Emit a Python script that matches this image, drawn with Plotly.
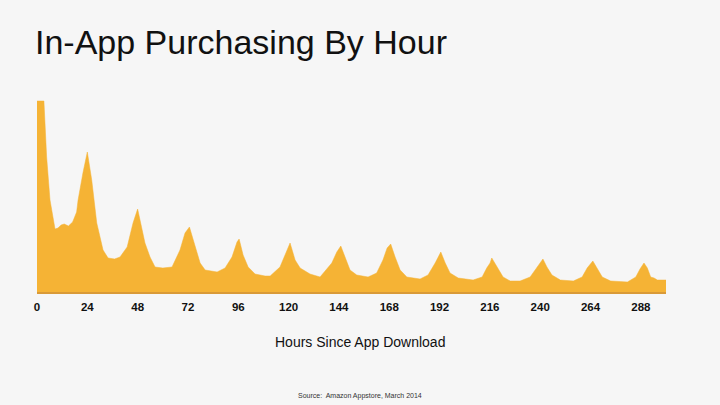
import plotly.graph_objects as go

hours = [0, 3.3, 4.6, 6.2, 8.6, 10, 11.5, 13, 15, 17, 18.9, 19.6, 21.9, 24, 26.1, 28.5, 31.5, 33.9, 37, 39.6,
         43, 45.8, 48, 51.5, 53.9, 56.3, 60, 64.4, 68.2, 70.6, 72.7, 75.4, 77.8, 80.2, 85.9, 89.7,
         93, 95.4, 96.4, 98.3, 100.7, 104, 108.8, 111.2, 115.9, 119.3, 120.7, 123.1, 125.5, 130.2, 135,
         140.6, 143, 144.9, 147, 149.3, 152.5, 157.9, 162, 165, 167, 168.7, 170.8, 173.2, 176.4,
         182.7, 186.5, 189.9, 192.6, 194.7, 197, 200.9, 208, 212.3, 214.5, 216.1, 216.9, 219.3, 222.3,
         225.7, 230.4, 235.2, 238.4, 241.3, 243.2, 245.6, 249.6, 255.8, 260, 262.4, 265.1, 267.2,
         269.6, 273.6, 281.6, 285.6, 287.6, 289.5, 291.1, 292.7, 294.3, 295.9, 300]
purchases = [191, 191, 135, 92, 63, 64, 67, 68, 66, 70, 80, 92, 119, 140, 112, 69, 42, 34, 33, 35,
             45, 69, 83, 49, 35, 25, 24, 25, 42, 59, 65, 45, 29, 22, 20, 24,
             35, 50, 53, 37, 25, 18, 16, 16, 25, 42, 49, 32, 24, 18, 15,
             29, 40, 46, 35, 22, 17, 15, 19, 32, 44, 48, 35, 22, 15,
             13, 17, 29, 40, 29, 19, 14, 12, 15, 24, 29, 34, 25, 15,
             11, 11, 15, 24, 33, 25, 17, 12, 11, 15, 24, 31, 24,
             15, 11, 10, 15, 23, 29, 24, 15, 14, 12, 12]
tick_vals = [0, 24, 48, 72, 96, 120, 144, 168, 192, 216, 240, 264, 288]
tick_text = [str(v) for v in tick_vals]

title_text = "In-App Purchasing By Hour"
x_title = "Hours Since App Download"
source_text = "Source:  Amazon Appstore, March 2014"

fig = go.Figure()
fig.add_trace(go.Scatter(
    x=hours, y=purchases, mode="lines", fill="tozeroy",
    line=dict(color="#F5B335", width=0.5), fillcolor="#F5B335",
    hoverinfo="skip", showlegend=False,
))

fig.update_layout(
    width=720, height=405,
    margin=dict(l=37, r=54, t=92, b=113),
    paper_bgcolor="#f6f6f6", plot_bgcolor="rgba(0,0,0,0)",
    xaxis=dict(range=[0, 300], tickvals=tick_vals, ticktext=tick_text,
               showgrid=False, zeroline=False, showline=True, linecolor="#D99A38", linewidth=1.5,
               ticks="", ticklabelstandoff=3,
               tickfont=dict(family="Liberation Sans Narrow, Arial Narrow, Liberation Sans, Arial",
                             size=11.5, color="#111111", weight="bold")),
    yaxis=dict(range=[0, 200], visible=False),
    font=dict(family="Liberation Sans, Arial, sans-serif"),
)
fig.add_annotation(text=title_text, xref="paper", yref="paper", x=-0.006, y=1.0 + (92 - 42) / 200,
                   xanchor="left", yanchor="middle", showarrow=False,
                   font=dict(family="Liberation Sans, Arial", size=34, color="#111111"))
fig.add_annotation(text=x_title, xref="paper", yref="paper", x=(360 - 37) / 629, y=-(342 - 292) / 200,
                   xanchor="center", yanchor="middle", showarrow=False,
                   font=dict(family="Liberation Sans, Arial", size=14, color="#111111"))
fig.add_annotation(text=source_text, xref="paper", yref="paper", x=(360 - 37) / 629, y=-(396 - 292) / 200,
                   xanchor="center", yanchor="middle", showarrow=False,
                   font=dict(family="Liberation Sans, Arial", size=7, color="#333333"))

fig.write_html("out.html", config={"displayModeBar": False},
               post_script="document.body.style.margin='0';document.body.style.background='#f6f6f6';")
